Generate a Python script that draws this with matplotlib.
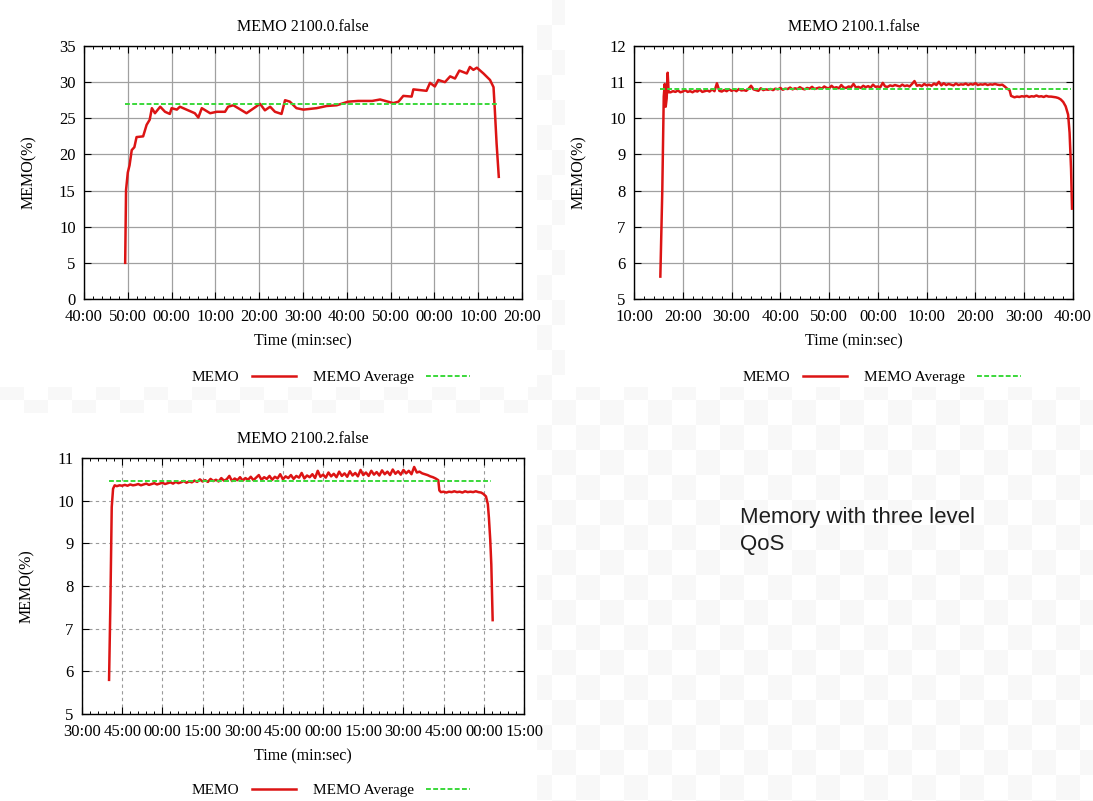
import matplotlib
matplotlib.use("Agg")
import matplotlib.pyplot as plt
import numpy as np
from matplotlib.lines import Line2D
from matplotlib.ticker import FixedLocator, AutoMinorLocator, FuncFormatter

plt.rcParams['font.family'] = ['Liberation Serif', 'DejaVu Serif']

# ---- run 2100.0 (minutes since start hour, memory %)
t_run0 = [49.4, 49.6, 50.0, 50.4, 50.9, 51.5, 52.0, 53.5, 54.3, 55.0, 55.5, 56.2, 57.4, 58.5,
          59.6, 60.0, 61.2, 61.9, 63.4, 65.3, 66.1, 66.9, 68.8, 70.3, 72.2, 72.9, 74.1, 75.2,
          77.1, 78.3, 80.2, 81.3, 82.5, 83.6, 85.1, 85.9, 87.0, 88.5, 90.1, 93.1, 95.4, 97.7,
          100.3, 102.6, 105.8, 107.6, 110.6, 111.8, 112.9, 114.8, 115.2, 118.2, 119.0, 120.1,
          120.9, 122.4, 123.6, 124.7, 125.7, 127.4, 128.1, 128.9, 129.7, 131.2, 132.7, 133.5,
          133.8, 134.2, 134.7]
mem_run0 = [5.0, 15.1, 17.5, 18.5, 20.6, 21.0, 22.4, 22.5, 24.1, 24.8, 26.4, 25.7, 26.6, 25.9,
            25.6, 26.4, 26.2, 26.6, 26.2, 25.7, 25.1, 26.4, 25.7, 25.9, 25.9, 26.6, 26.8, 26.4,
            25.7, 26.2, 27.0, 26.1, 26.6, 25.9, 25.6, 27.5, 27.3, 26.4, 26.2, 26.4, 26.7, 26.8,
            27.3, 27.4, 27.4, 27.6, 27.1, 27.3, 28.1, 28.0, 29.0, 28.8, 29.9, 29.4, 30.3, 30.0,
            30.8, 30.5, 31.6, 31.2, 32.1, 31.7, 32.0, 31.2, 30.3, 29.3, 26.1, 21.5, 16.9]
avg_run0 = 27.0

# ---- run 2100.1: ramp, then samples every 30 s, then tail
t_run1_head = [15.4, 15.8, 16.1, 16.3, 16.5, 16.7, 16.9, 17.1]
mem_run1_head = [5.62, 8.0, 10.6, 10.95, 10.32, 10.55, 11.26, 10.72]
run1_start, run1_step = 17.5, 0.5
mem_run1_body = [
    10.72, 10.75, 10.73, 10.77, 10.72, 10.74, 10.78, 10.73, 10.75, 10.72,
    10.76, 10.74, 10.79, 10.73, 10.75, 10.77, 10.74, 10.80, 10.75, 10.97,
    10.76, 10.74, 10.78, 10.75, 10.80, 10.76, 10.79, 10.75, 10.81, 10.77,
    10.78, 10.76, 10.82, 10.90, 10.80, 10.78, 10.76, 10.83, 10.78, 10.80,
    10.79, 10.81, 10.78, 10.82, 10.80, 10.84, 10.79, 10.82, 10.81, 10.85,
    10.80, 10.83, 10.81, 10.86, 10.82, 10.80, 10.84, 10.82, 10.87, 10.81,
    10.83, 10.85, 10.82, 10.88, 10.84, 10.83, 10.90, 10.84, 10.86, 10.83,
    10.92, 10.85, 10.84, 10.88, 10.86, 10.95, 10.85, 10.87, 10.84, 10.90,
    10.86, 10.89, 10.85, 10.93, 10.87, 10.88, 10.86, 10.98, 10.88, 10.87,
    10.91, 10.89, 10.92, 10.90, 10.88, 10.93, 10.89, 10.91, 10.88, 10.95,
    11.03, 10.90, 10.92, 10.89, 10.95, 10.91, 10.93, 10.90, 10.96, 10.92,
    11.01, 10.91, 10.97, 10.92, 10.95, 10.93, 10.91, 10.96, 10.92, 10.94,
    10.93, 10.96, 10.92, 10.95, 10.93, 10.97, 10.92, 10.94, 10.93, 10.95,
    10.92, 10.94, 10.93, 10.95, 10.93, 10.92, 10.93, 10.88, 10.82]
t_run1_tail = [87.0, 87.3, 88.0, 88.5, 89.0, 89.5, 90.0, 90.5, 91.0, 91.5, 92.0, 92.5, 93.0,
               93.5, 94.0, 94.5, 95.0, 95.5, 96.0, 96.5, 97.0, 97.5, 98.0, 98.5, 99.0, 99.3,
               99.6, 99.8]
mem_run1_tail = [10.78, 10.62, 10.58, 10.60, 10.59, 10.61, 10.60, 10.62, 10.59, 10.61, 10.60,
                 10.63, 10.60, 10.61, 10.59, 10.62, 10.60, 10.60, 10.59, 10.58, 10.56, 10.52,
                 10.45, 10.33, 10.10, 9.6, 8.6, 7.5]
avg_run1 = 10.80

# ---- run 2100.2: ramp, then samples every minute, then tail
t_run2_head = [40.1, 40.6, 41.1, 41.6, 42.2]
mem_run2_head = [5.8, 7.6, 9.85, 10.28, 10.36]
run2_start, run2_step = 43.0, 1.0
mem_run2_body = [
    10.34, 10.36, 10.35, 10.37, 10.35, 10.38, 10.36, 10.37, 10.39, 10.36,
    10.38, 10.40, 10.37, 10.39, 10.41, 10.38, 10.40, 10.42, 10.39, 10.41,
    10.43, 10.40, 10.44, 10.41, 10.43, 10.46, 10.42, 10.45, 10.43, 10.47,
    10.44, 10.50, 10.45, 10.48, 10.44, 10.51, 10.46, 10.49, 10.45, 10.53,
    10.47, 10.50, 10.58, 10.46, 10.52, 10.48, 10.55, 10.47, 10.53, 10.49,
    10.56, 10.48, 10.54, 10.60, 10.49, 10.55, 10.51, 10.58, 10.49, 10.56,
    10.52, 10.62, 10.50, 10.57, 10.53, 10.60, 10.51, 10.58, 10.54, 10.65,
    10.52, 10.59, 10.55, 10.62, 10.53, 10.70, 10.56, 10.61, 10.54, 10.66,
    10.57, 10.63, 10.55, 10.68, 10.58, 10.64, 10.56, 10.69, 10.59, 10.65,
    10.57, 10.72, 10.60, 10.66, 10.58, 10.70, 10.61, 10.67, 10.59, 10.71,
    10.62, 10.68, 10.60, 10.73, 10.63, 10.69, 10.61, 10.72, 10.64, 10.70,
    10.62, 10.79, 10.66, 10.68, 10.64, 10.62, 10.60, 10.57, 10.55, 10.52,
    10.48]
t_run2_tail = [163.4, 164, 165, 166, 167, 168, 169, 170, 171, 172, 173, 174, 175, 176, 177,
               178, 179, 179.8, 180.8, 181.5, 181.9, 182.4, 182.8, 183.3]
mem_run2_tail = [10.24, 10.20, 10.21, 10.19, 10.21, 10.20, 10.22, 10.20, 10.21, 10.19, 10.22,
                 10.20, 10.21, 10.20, 10.22, 10.20, 10.19, 10.16, 10.10, 9.92, 9.6, 9.08, 8.5,
                 7.2]
avg_run2 = 10.45

RED = '#dc1414'
GREEN = '#3ad83a'


def series(head_t, head_v, start, step, body, tail_t, tail_v):
    body_t = start + step * np.arange(len(body))
    t = np.concatenate([head_t, body_t, tail_t])
    v = np.concatenate([head_v, body, tail_v])
    return t, v


def clock(m, pos):
    return "%02d:00" % (int(round(m)) % 60)


def memo_panel(ax, t, v, avg, title, xticks, yticks, grid_dash):
    ax.plot(t, v, color=RED, lw=1.8, zorder=3)
    ax.plot([t[0], t[-2]], [avg, avg], color=GREEN, lw=1.4, dashes=(2.5, 1.2), zorder=4)
    ax.set_xlim(xticks[0], xticks[-1])
    ax.set_ylim(yticks[0], yticks[-1])
    ax.xaxis.set_major_locator(FixedLocator(xticks))
    ax.xaxis.set_major_formatter(FuncFormatter(clock))
    ax.xaxis.set_minor_locator(AutoMinorLocator(5))
    ax.yaxis.set_major_locator(FixedLocator(yticks))
    ax.tick_params(which='both', direction='in', top=True, right=True, labelsize=12)
    ax.tick_params(which='major', length=5, width=0.8)
    ax.tick_params(which='minor', length=2.5, width=0.7)
    ax.tick_params(axis='x', pad=7)
    ax.tick_params(axis='y', pad=6)
    if grid_dash:
        ax.grid(True, color='#9a9a9a', lw=0.8, dashes=(3, 3))
    else:
        ax.grid(True, color='#a0a0a0', lw=0.9)
    ax.set_axisbelow(True)
    for s in ax.spines.values():
        s.set_linewidth(1.0)
    ax.set_title(title, fontsize=11.5, pad=11)
    ax.set_xlabel('Time (min:sec)', fontsize=11.5, labelpad=6.5)
    ax.set_ylabel('MEMO(%)', fontsize=11.5, labelpad=16)


W, H = 1093, 801
fig = plt.figure(figsize=(W / 100, H / 100), dpi=100)
fig.patch.set_facecolor('white')

# faint checkerboard backdrop, white where each chart sits
bg = fig.add_axes([0, 0, 1, 1], zorder=-10)
yy, xx = np.mgrid[0:H, 0:W]
img = np.where(((xx // 24 + yy // 25) % 2) == 1, 0.972, 1.0)
for x0, y0, x1, y1 in [(0, 0, 537, 387), (565, 0, W, 387), (0, 413, 537, H)]:
    img[y0:y1, x0:x1] = 1.0
bg.imshow(img, cmap='gray', vmin=0, vmax=1, extent=(0, W, H, 0), aspect='auto',
          interpolation='nearest')
bg.set_xlim(0, W)
bg.set_ylim(H, 0)
bg.axis('off')


def box(left, top, right, bottom):
    return [left / W, 1 - bottom / H, (right - left) / W, (bottom - top) / H]


ax0 = fig.add_axes(box(84, 46, 522, 299))
ax1 = fig.add_axes(box(634, 46, 1073, 299))
ax2 = fig.add_axes(box(82, 458, 524, 714))

t0 = np.array(t_run0)
v0 = np.array(mem_run0)
memo_panel(ax0, t0, v0, avg_run0, 'MEMO 2100.0.false',
           list(range(40, 141, 10)), list(range(0, 36, 5)), False)

t1, v1 = series(t_run1_head, mem_run1_head, run1_start, run1_step, mem_run1_body,
                t_run1_tail, mem_run1_tail)
memo_panel(ax1, t1, v1, avg_run1, 'MEMO 2100.1.false',
           list(range(10, 101, 10)), list(range(5, 13)), False)

t2, v2 = series(t_run2_head, mem_run2_head, run2_start, run2_step, mem_run2_body,
                t_run2_tail, mem_run2_tail)
memo_panel(ax2, t2, v2, avg_run2, 'MEMO 2100.2.false',
           list(range(30, 196, 15)), list(range(5, 12)), True)

handles = [Line2D([], [], color=RED, lw=1.8),
           Line2D([], [], color=GREEN, lw=1.4, dashes=(2.5, 1.2))]
for ax, cx, cy in [(ax0, 331, 377), (ax1, 882, 377), (ax2, 331, 790)]:
    ax.legend(handles, ['MEMO', 'MEMO Average'], loc='center',
              bbox_to_anchor=(cx / W, 1 - cy / H), bbox_transform=fig.transFigure,
              ncol=2, frameon=False, markerfirst=False, fontsize=11,
              handlelength=2.9, handletextpad=0.8, columnspacing=1.1, borderpad=0.1)

fig.text(740 / W, 1 - 507 / H, 'Memory with three level\nQoS', family=['Liberation Sans'],
         fontsize=16, color='#1e1e1e', va='top', ha='left', linespacing=1.38)

fig.savefig('out.png', dpi=100, facecolor='white')
